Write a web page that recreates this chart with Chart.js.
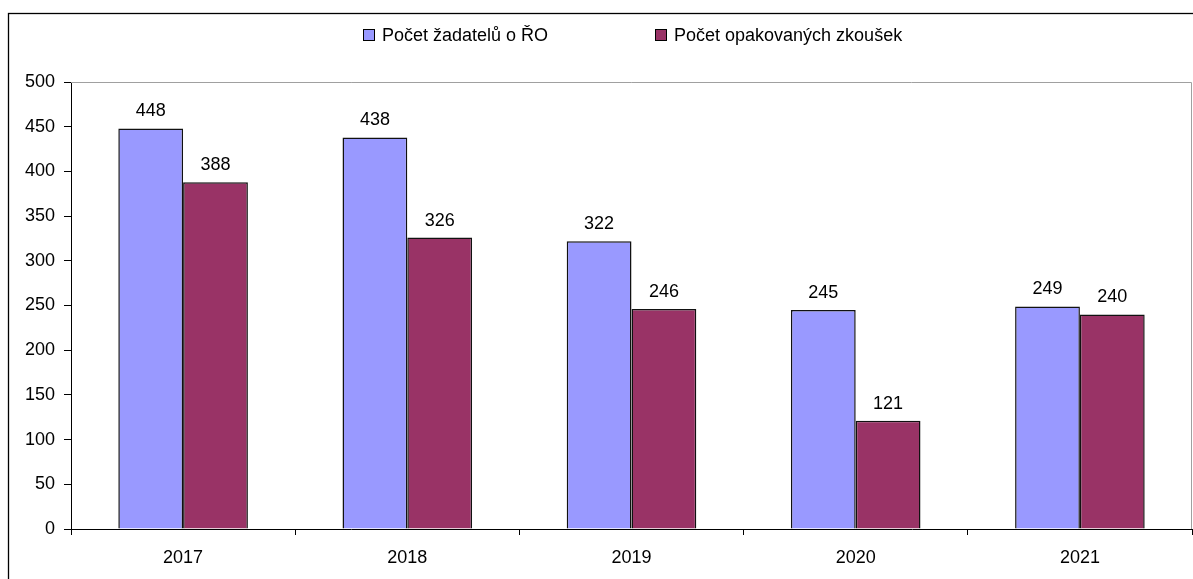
<!DOCTYPE html>
<html>
<head>
<meta charset="utf-8">
<script src="https://cdn.jsdelivr.net/npm/chart.js@4/dist/chart.umd.min.js"></script>
<style>
html,body{margin:0;padding:0;background:#fff;}
canvas{display:block;}
</style>
</head>
<body>
<canvas id="c" width="1193" height="579"></canvas>
<script>
const categories = ['2017', '2018', '2019', '2020', '2021'];
const seriesNames = ['Počet žadatelů o ŘO', 'Počet opakovaných zkoušek'];
const applicants = [448, 438, 322, 245, 249];
const repeatedExams = [388, 326, 246, 121, 240];
const yTicks = [0, 50, 100, 150, 200, 250, 300, 350, 400, 450, 500];

const FONT = '"Liberation Sans", Arial, sans-serif';

const framePlugin = {
  id: 'frame',
  beforeDraw(chart) {
    const ctx = chart.ctx;
    ctx.save();
    ctx.fillStyle = '#fff';
    ctx.fillRect(0, 0, chart.width, chart.height);
    ctx.strokeStyle = '#000';
    ctx.lineWidth = 1.3;
    ctx.strokeRect(8.5, 13.5, 1300, 700);
    ctx.restore();
  },
  beforeDatasetsDraw(chart) {
    const ctx = chart.ctx, a = chart.chartArea;
    ctx.save();
    ctx.strokeStyle = '#a0a0a0';
    ctx.lineWidth = 1;
    ctx.beginPath();
    ctx.moveTo(a.left, a.top + 0.5);
    ctx.lineTo(a.right - 0.5, a.top + 0.5);
    ctx.lineTo(a.right - 0.5, a.bottom);
    ctx.stroke();
    ctx.restore();
  },
  afterDatasetsDraw(chart) {
    const ctx = chart.ctx;
    ctx.save();
    ctx.font = '18px ' + FONT;
    ctx.fillStyle = '#000';
    ctx.textAlign = 'center';
    ctx.textBaseline = 'alphabetic';
    chart.data.datasets.forEach((ds, i) => {
      const meta = chart.getDatasetMeta(i);
      meta.data.forEach((bar, j) => {
        ctx.fillText(String(ds.data[j]), bar.x, bar.y - 12);
      });
    });
    // legend
    const items = [{x: 363}, {x: 655}];
    chart.data.datasets.forEach((ds, i) => {
      const x = items[i].x;
      ctx.fillStyle = ds.backgroundColor;
      ctx.fillRect(x, 29, 12, 12);
      ctx.strokeStyle = '#000';
      ctx.lineWidth = 1;
      ctx.strokeRect(x + 0.5, 29.5, 11, 11);
      ctx.fillStyle = '#000';
      ctx.textAlign = 'left';
      ctx.fillText(ds.label, x + 19, 41);
    });
    ctx.restore();
  }
};

new Chart(document.getElementById('c'), {
  type: 'bar',
  data: {
    labels: categories,
    datasets: [
      { label: seriesNames[0], data: applicants, backgroundColor: '#9999FF', borderColor: '#111', borderWidth: 1.5, borderSkipped: 'start', categoryPercentage: 0.578, barPercentage: 1.0 },
      { label: seriesNames[1], data: repeatedExams, backgroundColor: '#993366', borderColor: '#111', borderWidth: 1.5, borderSkipped: 'start', categoryPercentage: 0.578, barPercentage: 1.0 }
    ]
  },
  options: {
    responsive: false,
    animation: false,
    layout: { padding: { left: 0, right: 1, top: 82, bottom: 0 } },
    plugins: { legend: { display: false }, tooltip: { enabled: false } },
    scales: {
      x: {
        grid: { offset: true, drawOnChartArea: false, drawTicks: true, tickLength: 6, tickColor: '#000' },
        border: { color: '#000', width: 1 },
        ticks: { color: '#000', font: { family: FONT, size: 18 }, padding: 12, maxRotation: 0 },
        afterFit(s) { s.height = 50; }
      },
      y: {
        min: 0, max: 500,
        afterBuildTicks(s) { s.ticks = yTicks.map(v => ({ value: v })); },
        grid: { drawOnChartArea: false, drawTicks: true, tickLength: 7, tickColor: '#000' },
        border: { color: '#000', width: 1 },
        ticks: { color: '#000', font: { family: FONT, size: 18 }, padding: 9 },
        afterFit(s) { s.width = 71; }
      }
    }
  },
  plugins: [framePlugin]
});
</script>
</body>
</html>
